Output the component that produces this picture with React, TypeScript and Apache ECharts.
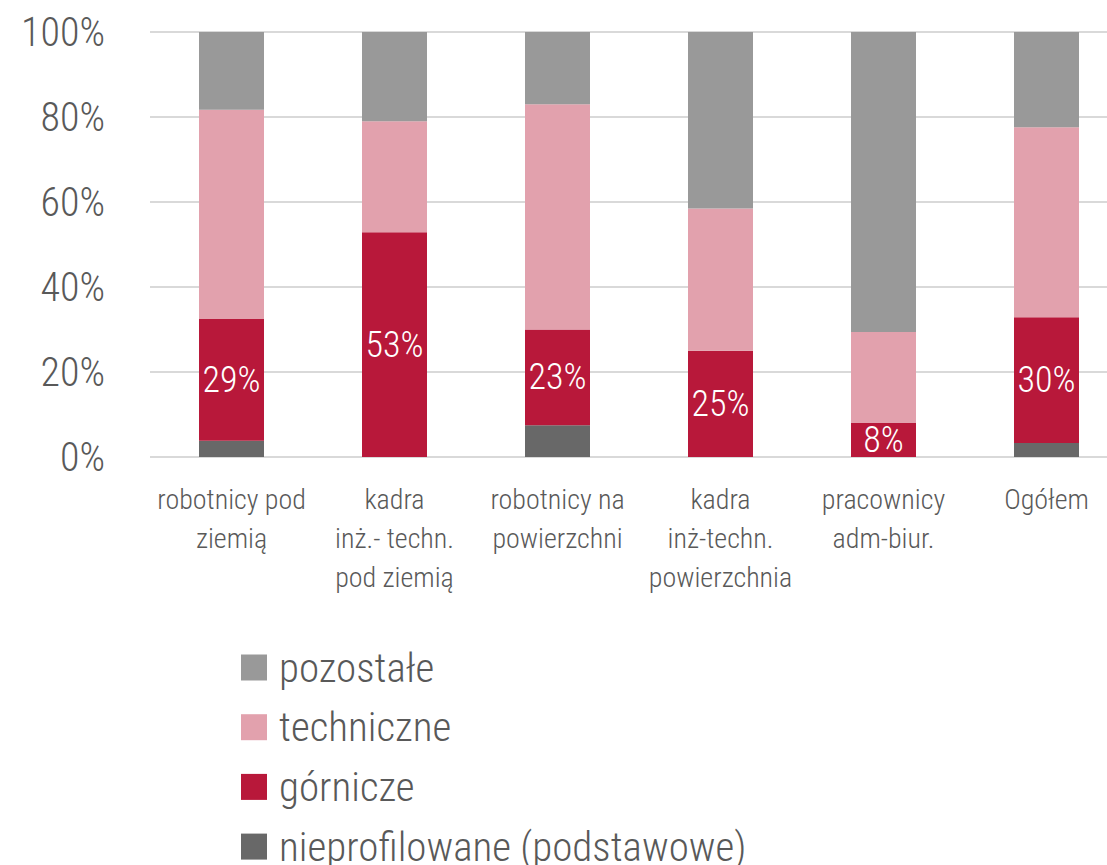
import React, { useEffect, useRef } from "react";
import * as echarts from "echarts";

const categories = [
  "robotnicy pod\nziemią",
  "kadra\ninż.- techn.\npod ziemią",
  "robotnicy na\npowierzchni",
  "kadra\ninż-techn.\npowierzchnia",
  "pracownicy\nadm-biur.",
  "Ogółem",
];

const nieprofilowane = [3.8, 0, 7.5, 0, 0, 3.3];
const gornicze = [28.7, 52.9, 22.5, 25.0, 8.0, 29.6];
const techniczne = [49.2, 26.1, 53.0, 33.5, 21.4, 44.7];
const pozostale = [18.3, 21.0, 17.0, 41.5, 70.6, 22.4];

const legendOrder = ["pozostałe", "techniczne", "górnicze", "nieprofilowane (podstawowe)"];

const yTicks = [0, 20, 40, 60, 80, 100];

const FONT = "'Roboto Condensed', Roboto, 'Noto Sans', sans-serif";

export default function App() {
  const ref = useRef<HTMLDivElement>(null);

  useEffect(() => {
    if (!ref.current) return;
    const chart = echarts.init(ref.current, null, { renderer: "svg" });
    const barWidth = 65;
    const legendLine = 38;
    chart.setOption({
      animation: false,
      backgroundColor: "#ffffff",
      textStyle: { fontFamily: FONT, fontWeight: 300 },
      grid: {
        left: 150,
        top: 32,
        height: 425,
        width: 978,
        containLabel: false,
        outerBoundsMode: "none",
      },
      legend: legendOrder.map((name, i) => ({
        orient: "vertical",
        left: 241,
        top: 666 + i * 59.7 - legendLine / 2,
        padding: 0,
        itemWidth: 26,
        itemHeight: 26,
        icon: "rect",
        data: [name],
        textStyle: {
          fontFamily: FONT,
          fontWeight: 300,
          fontSize: 41,
          lineHeight: legendLine,
          color: "#595959",
          padding: [0, 0, 0, 7],
        },
        itemStyle: { borderWidth: 0 },
      })),
      xAxis: {
        type: "category",
        data: categories,
        axisLine: { show: false },
        axisTick: { show: false },
        axisLabel: {
          fontFamily: FONT,
          fontWeight: 300,
          fontSize: 28,
          lineHeight: 39,
          color: "#595959",
          margin: 23,
          interval: 0,
        },
      },
      yAxis: {
        type: "value",
        min: yTicks[0],
        max: yTicks[yTicks.length - 1],
        interval: 20,
        axisLine: { show: false },
        axisTick: { show: false },
        splitLine: { lineStyle: { color: "#d9d9d9", width: 2 } },
        axisLabel: {
          formatter: "{value}%",
          fontFamily: FONT,
          fontWeight: 300,
          fontSize: 40,
          color: "#595959",
          margin: 45,
        },
      },
      series: [
        {
          name: "nieprofilowane (podstawowe)",
          type: "bar",
          stack: "all",
          barWidth,
          data: nieprofilowane,
          itemStyle: { color: "#686868" },
        },
        {
          name: "górnicze",
          type: "bar",
          stack: "all",
          barWidth,
          data: gornicze,
          itemStyle: { color: "#b8183a" },
          label: {
            show: true,
            position: "inside",
            formatter: (p: any) => Math.round(p.value) + "%",
            color: "#ffffff",
            fontFamily: FONT,
            fontWeight: 300,
            fontSize: 36,
          },
        },
        {
          name: "techniczne",
          type: "bar",
          stack: "all",
          barWidth,
          data: techniczne,
          itemStyle: { color: "#e2a1ad" },
        },
        {
          name: "pozostałe",
          type: "bar",
          stack: "all",
          barWidth,
          data: pozostale,
          itemStyle: { color: "#999999" },
        },
      ],
    });
    return () => chart.dispose();
  }, []);

  return (
    <div
      ref={ref}
      style={{ position: "fixed", left: 0, top: 0, width: 1107, height: 865 }}
    />
  );
}
